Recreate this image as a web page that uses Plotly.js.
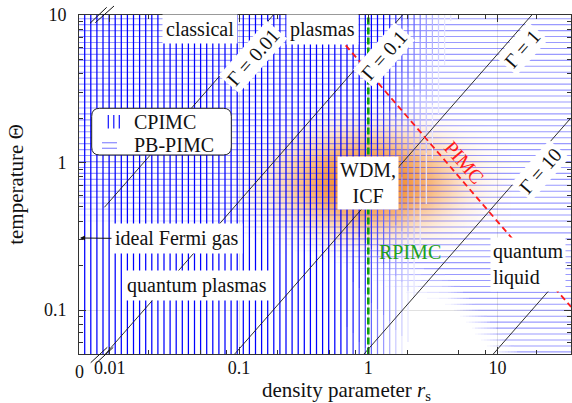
<!DOCTYPE html>
<html><head><meta charset="utf-8">
<script src="https://cdn.plot.ly/plotly-3.0.1.min.js"></script>
<style>html,body{margin:0;padding:0;background:#fff;}#chart{width:572px;height:403px;}</style>
</head><body><div id="chart"></div>
<script>
// ---------- data ----------
const gammaValues      = [0.01, 0.1, 1, 10, 100];
const gammaRsStart     = [0.0091, 0.0092, 0.092, 0.92, 9.2];
const gammaThetaStart  = [0.497, 0.05, 0.05, 0.05, 0.05];
const gammaRsEnd       = [0.184, 1.84, 18.4, 37, 26.5];
const gammaThetaEnd    = [10, 10, 10, 2.01, 0.144];
const pimcRs           = [0.42, 37];
const pimcTheta        = [10, 0.105];
const rpimcRs          = [1, 1];
const rpimcTheta       = [0.05, 10];
const wdmCenterRs      = [1.0];
const wdmCenterTheta   = [0.74];
const xTickVals = [0.01, 0.1, 1, 10];
const xTickText = ['0.01', '0.1', '1', '10'];
const yTickVals = [0.1, 1, 10];
const yTickText = ['0.1', '1', '10'];
const xMinorVals = [0.02, 0.05, 0.08, 0.2, 0.5, 0.8, 2, 5, 8, 20];
const yMinorVals = [0.06, 0.07, 0.08, 0.09, 0.2, 0.3, 0.4, 0.5, 0.6, 0.7, 0.8, 0.9, 2, 3, 4, 5, 6, 7, 8, 9];

// ---------- geometry ----------
const W = 572, H = 403, L = 79, T = 15, PW = 492, PH = 339;
const XR = [-2.2374, 1.5677], YR = [-1.298, 1];
const FONT = 'Liberation Serif, Times New Roman, serif';
function pxToRs(px) { return Math.pow(10, XR[0] + (px - L) / PW * (XR[1] - XR[0])); }
function pyToTh(py) { return Math.pow(10, YR[1] - (py - T) / PH * (YR[1] - YR[0])); }
function px2p(px) { return (px - L) / PW; }
function py2p(py) { return 1 - (py - T) / PH; }
function clamp(v, a, b) { return Math.max(a, Math.min(b, v)); }

// ---------- hatching (region shading) ----------
const N = 10;
function vAlpha(px, py) { const xb = 455 - (py - T) / PH * 45; return clamp((xb - px) / 70, 0, 1); }
const hb = [[79, 225], [250, 240], [330, 262], [390, 290], [445, 305], [460, 318], [530, 395], [572, 440]];
function yb(px) {
  for (let i = 0; i < hb.length - 1; i++) {
    if (px <= hb[i + 1][0]) { const t = (px - hb[i][0]) / (hb[i + 1][0] - hb[i][0]); return hb[i][1] + t * (hb[i + 1][1] - hb[i][1]); }
  }
  return hb[hb.length - 1][1];
}
function hAlpha(px, py) { return clamp((yb(px) - py) / 32, 0, 1); }

const vx = [], vy = [], hx = [], hy = [];
for (let k = 0; k <= N; k++) { vx.push([]); vy.push([]); hx.push([]); hy.push([]); }
const STEP = 3;
for (let k = 0; 84.7 + 6.1 * k < L + PW; k++) {
  const px = 84.7 + 6.1 * k;
  let cur = -1, start = T;
  for (let py = T; py <= T + PH; py += STEP) {
    const lv = Math.round(vAlpha(px, py + STEP / 2) * N);
    if (lv !== cur) {
      if (cur > 0) { vx[cur].push(pxToRs(px), pxToRs(px), null); vy[cur].push(pyToTh(start), pyToTh(py), null); }
      cur = lv; start = py;
    }
  }
  if (cur > 0) { vx[cur].push(pxToRs(px), pxToRs(px), null); vy[cur].push(pyToTh(start), pyToTh(T + PH), null); }
}
for (let k = 0; 18.7 + 5.95 * k < T + PH; k++) {
  const py = 18.7 + 5.95 * k;
  let cur = -1, start = L;
  for (let px = L; px <= L + PW; px += STEP) {
    const lv = Math.round(hAlpha(px + STEP / 2, py) * N);
    if (lv !== cur) {
      if (cur > 0) { hx[cur].push(pxToRs(start), pxToRs(px), null); hy[cur].push(pyToTh(py), pyToTh(py), null); }
      cur = lv; start = px;
    }
  }
  if (cur > 0) { hx[cur].push(pxToRs(start), pxToRs(L + PW), null); hy[cur].push(pyToTh(py), pyToTh(py), null); }
}

// ---------- WDM glow ----------
const gx = [], gy = [], gz = [];
const NX = 80, NY = 60, hxd = 0.95, hyd = 0.47;
const lcx = Math.log10(wdmCenterRs[0]), lcy = Math.log10(wdmCenterTheta[0]);
for (let i = 0; i < NX; i++) gx.push(Math.pow(10, lcx - 1.15 * hxd + 2.3 * hxd * i / (NX - 1)));
for (let j = 0; j < NY; j++) gy.push(Math.pow(10, lcy - 1.15 * hyd + 2.3 * hyd * j / (NY - 1)));
for (let j = 0; j < NY; j++) {
  const row = [];
  for (let i = 0; i < NX; i++) {
    const dx = (Math.log10(gx[i]) - lcx) / hxd, dy = (Math.log10(gy[j]) - lcy) / hyd;
    const r = Math.sqrt(dx * dx + dy * dy);
    row.push(Math.exp(-2.8 * Math.pow(r, 2.6)));
  }
  gz.push(row);
}

function mixBlue(a, r0, g0) {
  const r = Math.round(255 - (255 - r0) * a), g = Math.round(255 - (255 - g0) * a);
  return 'rgb(' + r + ',' + g + ',255)';
}
const traces = [];
traces.push({ type: 'heatmap', x: gx, y: gy, z: gz, zmin: 0, zmax: 1, zsmooth: 'best', showscale: false, hoverinfo: 'skip',
  colorscale: [[0, 'rgba(245,140,40,0)'], [1, 'rgba(242,130,28,0.95)']] });
for (let k = 1; k <= N; k++) {
  if (hx[k].length) traces.push({ type: 'scatter', mode: 'lines', x: hx[k], y: hy[k], hoverinfo: 'skip', showlegend: false,
    line: { color: 'rgba(30,30,255,' + (0.45 * k / N).toFixed(3) + ')', width: 1.1 } });
}
for (let k = 1; k <= N; k++) {
  if (vx[k].length) traces.push({ type: 'scatter', mode: 'lines', x: vx[k], y: vy[k], hoverinfo: 'skip', showlegend: false,
    line: { color: mixBlue(k / N, 0, 0), width: 1.25 } });
}
for (let i = 0; i < gammaValues.length; i++) {
  traces.push({ type: 'scatter', mode: 'lines', name: 'Γ = ' + gammaValues[i], showlegend: false,
    x: [gammaRsStart[i], gammaRsEnd[i]], y: [gammaThetaStart[i], gammaThetaEnd[i]],
    line: { color: '#1a1a1a', width: 0.9 } });
}
traces.push({ type: 'scatter', mode: 'lines', name: 'PIMC', showlegend: false, x: pimcRs, y: pimcTheta,
  line: { color: '#ff1a1a', width: 1.8, dash: '6px,4px' } });
traces.push({ type: 'scatter', mode: 'lines', name: 'RPIMC', showlegend: false, x: rpimcRs, y: rpimcTheta,
  line: { color: '#10a010', width: 2.6, dash: '7px,3px' } });

// ---------- annotations ----------
function ann(text, px, py, o) {
  return Object.assign({ text: text, xref: 'paper', yref: 'paper', x: px2p(px), y: py2p(py), showarrow: false,
    xanchor: 'center', yanchor: 'middle',
    font: { family: FONT, size: 20, color: '#111' } }, o || {});
}
const ANG = -48.8;
const annotations = [
  ann('classical', 200, 29, { bgcolor: 'white', borderpad: 3 }),
  ann('plasmas', 322, 29, { bgcolor: 'white', borderpad: 3 }),
  ann('Γ = 0.01', 253, 57, { textangle: ANG, bgcolor: 'white', borderpad: 2 }),
  ann('Γ = 0.1', 384, 55, { textangle: ANG, bgcolor: 'white', borderpad: 2 }),
  ann('Γ = 1', 522, 49, { textangle: ANG, bgcolor: 'white', borderpad: 2 }),
  ann('Γ = 10', 540, 171, { textangle: ANG, bgcolor: 'white', borderpad: 2 }),
  ann('PIMC', 464, 162, { textangle: 49.6, font: { family: FONT, size: 20, color: '#ff1a1a' } }),
  ann('WDM,<br>ICF', 368, 183, { bgcolor: 'white', borderpad: 2 }),
  ann('RPIMC', 410, 252, { font: { family: FONT, size: 20, color: '#20a020' } }),
  ann('quantum<br>liquid', 490, 264, { xanchor: 'left', align: 'left', bgcolor: 'white', borderpad: 2 }),
  ann('quantum plasmas', 197, 285, { bgcolor: 'white', borderpad: 3 }),
  {
    text: 'ideal Fermi gas', xref: 'paper', yref: 'paper', x: px2p(80), y: py2p(238), showarrow: true,
    ax: 97, ay: 1, arrowhead: 2, arrowsize: 1, arrowwidth: 1, arrowcolor: '#111', standoff: 0,
    bgcolor: 'white', borderpad: 3, font: { family: FONT, size: 20, color: '#111' }
  },
  ann('CPIMC', 132, 122, { xanchor: 'left' }),
  ann('PB-PIMC', 132, 145, { xanchor: 'left' }),
  ann('0', 79, 372, { font: { family: FONT, size: 18, color: '#111' } }),
  ann('density parameter <i>r</i><sub>s</sub>', 346, 391, { font: { family: FONT, size: 21, color: '#111' } })
];

// ---------- shapes (legend frame, icons, axis breaks) ----------
function pathRound(x0, y0, x1, y1, r) {
  const X = px2p, Y = py2p;
  return 'M' + X(x0 + r) + ',' + Y(y0) + ' L' + X(x1 - r) + ',' + Y(y0) + ' Q' + X(x1) + ',' + Y(y0) + ' ' + X(x1) + ',' + Y(y0 + r) +
    ' L' + X(x1) + ',' + Y(y1 - r) + ' Q' + X(x1) + ',' + Y(y1) + ' ' + X(x1 - r) + ',' + Y(y1) +
    ' L' + X(x0 + r) + ',' + Y(y1) + ' Q' + X(x0) + ',' + Y(y1) + ' ' + X(x0) + ',' + Y(y1 - r) +
    ' L' + X(x0) + ',' + Y(y0 + r) + ' Q' + X(x0) + ',' + Y(y0) + ' ' + X(x0 + r) + ',' + Y(y0) + ' Z';
}
function seg(x0, y0, x1, y1, color, width) {
  return { type: 'line', xref: 'paper', yref: 'paper', layer: 'above', x0: px2p(x0), y0: py2p(y0), x1: px2p(x1), y1: py2p(y1),
    line: { color: color, width: width } };
}
const shapes = [
  { type: 'path', xref: 'paper', yref: 'paper', layer: 'above', path: pathRound(91.7, 108.3, 231.3, 155, 8),
    fillcolor: 'white', line: { color: '#222', width: 1 } },
  seg(108.3, 115, 108.3, 128.5, '#1010ff', 1.2), seg(113.8, 115, 113.8, 128.5, '#1010ff', 1.2), seg(119.3, 115, 119.3, 128.5, '#1010ff', 1.2),
  seg(102, 142.7, 117, 142.7, 'rgba(40,40,255,0.5)', 1.3), seg(102, 148.3, 117, 148.3, 'rgba(40,40,255,0.5)', 1.3),
  seg(90, 23.3, 106.7, 7.3, '#111', 1), seg(95.3, 22.7, 114, 6, '#111', 1),
  seg(90.7, 362.7, 107.3, 347.3, '#111', 1), seg(96.7, 362.7, 113.3, 347.3, '#111', 1)
];

const axisCommon = {
  type: 'log', showline: true, linecolor: '#333', linewidth: 1, mirror: 'allticks',
  ticks: 'inside', ticklen: 7, tickcolor: '#333', tickwidth: 1, tickmode: 'array',
  showgrid: true, gridcolor: '#d9d9d9', gridwidth: 0.8, zeroline: false,
  tickfont: { family: FONT, size: 18, color: '#111' }, fixedrange: true
};
const layout = {
  width: W, height: H, margin: { l: L, r: W - L - PW, t: T, b: H - T - PH },
  paper_bgcolor: 'white', plot_bgcolor: 'white', showlegend: false,
  xaxis: Object.assign({}, axisCommon, {
    range: XR, tickvals: xTickVals, ticktext: xTickText, ticklabelstandoff: -3,
    minor: { tickmode: 'array', tickvals: xMinorVals, ticks: 'inside', ticklen: 4, tickcolor: '#333', showgrid: false }
  }),
  yaxis: Object.assign({}, axisCommon, {
    range: YR, tickvals: yTickVals, ticktext: yTickText, ticklabelstandoff: 8,
    minor: { tickmode: 'array', tickvals: yMinorVals, ticks: 'inside', ticklen: 4, tickcolor: '#333', showgrid: false },
    title: { text: 'temperature Θ', font: { family: FONT, size: 21, color: '#111' }, standoff: 14 }
  }),
  annotations: annotations, shapes: shapes
};
Plotly.newPlot('chart', traces, layout, { displayModeBar: false, staticPlot: true });
</script></body></html>
